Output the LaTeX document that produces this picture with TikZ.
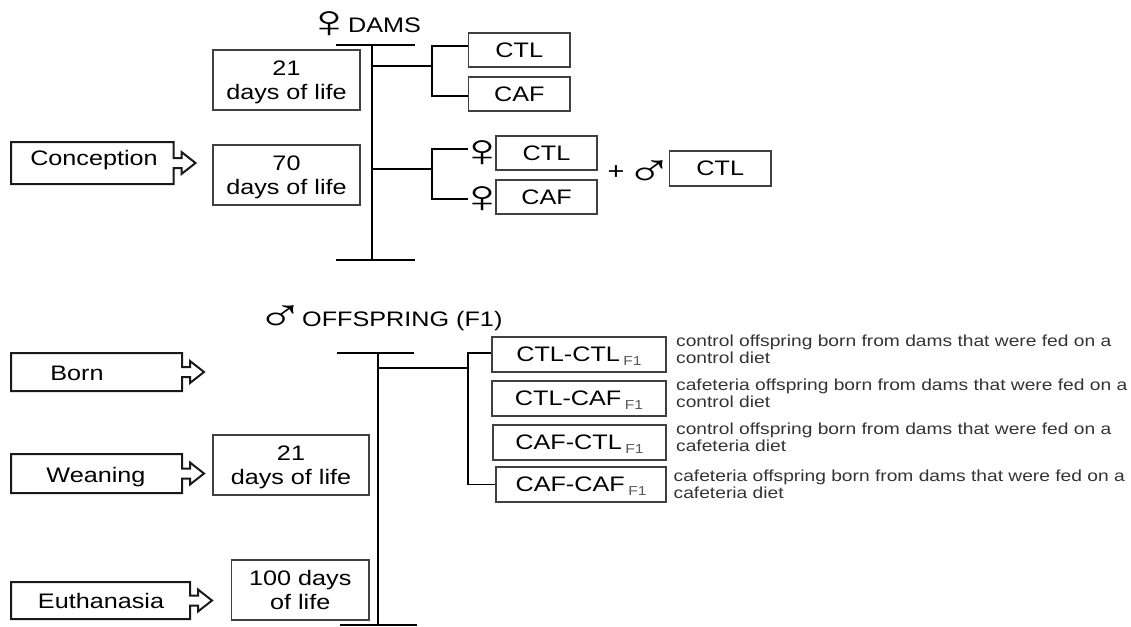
\documentclass[tikz,border=0pt]{standalone}
\usepackage{fontspec}
\setmainfont[FakeStretch=1.2]{Liberation Sans}
\newfontfamily\symfont{Liberation Sans}
\usetikzlibrary{calc}

\tikzset{
    box/.style={draw=black!75, line width=1.1pt, fill=white, align=center, inner sep=0pt, text depth=0pt, font=\fontsize{21}{24}\selectfont},
    note/.style={anchor=north west, align=left, inner sep=0pt, text=black!80, font=\fontsize{16}{17}\selectfont},
    label/.style={inner sep=0pt, text depth=0pt, font=\fontsize{21}{24}\selectfont},
    sym/.style={inner sep=0pt, font=\symfont\fontsize{46}{46}\selectfont},
    trunk/.style={line width=2pt},
    branch/.style={line width=1.6pt},
    stage/.style={line width=2pt, black!90},
}

% box given by its corners: name, left, top, right, bottom, text
\newcommand{\labbox}[6]{\node[box, minimum width=#4-#2, minimum height=#5-#3] (#1) at ({(#2+#4)/2},{(#3+#5)/2}) {#6};}
% stage arrow: name, right side, top, bottom, text position, text
\newcommand{\stagearrow}[6]{
    \draw[stage] (11,#3) -- (#2,#3) -- (#2,{(#3+#4)/2-5}) -- ++(8,0) -- ++(0,-6) -- ++(14,11) -- ++(-14,11) -- ++(0,-6) -- ++(-8,0) -- (#2,#4) -- (11,#4) -- cycle;
    \node[label] (#1) at (#5) {#6};
}
\newcommand{\fone}{\,\raisebox{-4pt}{\textcolor{black!65}{\fontsize{13}{13}\selectfont F1}}}
\newcommand{\femsym}{\scalebox{1.45}[1]{♀}}
\newcommand{\malesym}{\scalebox{1.4}[1]{♂}}

\begin{document}
\begin{tikzpicture}[x=1pt, y=-1pt]
    \useasboundingbox (0,0) rectangle (1131,626);

    % Dams
    \node[sym] (femDams) at (330,25) {\femsym};
    \node[label, anchor=west] (dams) at (348,25) {DAMS};
    \coordinate (damsTop) at (372,45);
    \coordinate (damsEnd) at (372,260);
    \coordinate (damsWean) at (372,66);
    \coordinate (damsMate) at (372,169);
    \coordinate (forkWean) at (432,66);
    \coordinate (forkMate) at (432,169);
    \draw[trunk] (336,45) -- (415,45);
    \draw[trunk] (336,260) -- (415,260);
    \draw[trunk] (damsTop) -- (damsEnd);

    \labbox{dayA}{213}{50}{360}{110}{21\\days of life}
    \labbox{dayB}{213}{145}{360}{205}{70\\days of life}
    \stagearrow{conception}{173.5}{142}{184}{94,158}{Conception}

    \labbox{ctlA}{468.5}{33}{570}{67}{CTL}
    \labbox{cafA}{468.5}{77}{570}{111}{CAF}
    \labbox{ctlB}{496}{136}{597}{170}{CTL}
    \labbox{cafB}{496}{180}{597}{214}{CAF}
    \labbox{ctlM}{669.5}{151}{771}{186}{CTL}
    \node[sym] (femB) at (483,154) {\femsym};
    \node[sym] (femC) at (483,200) {\femsym};
    \node[label, font=\fontsize{24}{24}\selectfont] (plus) at (616,173) {+};
    \node[sym] (maleM) at (650,174) {\malesym};

    \draw[branch] (damsWean) -- (forkWean);
    \draw[branch] ([yshift=4pt]ctlA.west) -| (forkWean) |- ([yshift=-2pt]cafA.west);
    \draw[branch] (damsMate) -- (forkMate);
    \draw[branch] (468,149) -| (forkMate) |- (468,199);

    % Offspring
    \node[sym] (maleF) at (281,319) {\malesym};
    \node[label, anchor=west] (offspring) at (302,319) {OFFSPRING (F1)};
    \coordinate (offTop) at (378,353);
    \coordinate (offEnd) at (378,625);
    \coordinate (offLine) at (378,368);
    \coordinate (forkF) at (468,368);
    \draw[trunk] (337,353) -- (414,353);
    \draw[trunk] (340,625) -- (417,625);
    \draw[trunk] (offTop) -- (offEnd);

    \stagearrow{born}{182}{353}{391}{77,373}{Born}
    \stagearrow{weaning}{182}{454}{493}{96,475}{Weaning}
    \stagearrow{euthanasia}{190}{582}{619}{101,601}{Euthanasia}
    \labbox{dayC}{213}{435}{369}{495}{21\\days of life}
    \labbox{dayD}{231.5}{560}{369}{620}{100 days\\of life}

    \labbox{grpA}{492}{337}{666}{372}{CTL-CTL\fone}
    \labbox{grpB}{492}{381}{666}{416}{CTL-CAF\fone}
    \labbox{grpC}{493}{425}{666}{460}{CAF-CTL\fone}
    \labbox{grpD}{496}{467}{666}{502}{CAF-CAF\fone}

    \draw[branch] (offLine) -- (forkF);
    \draw[branch] ([yshift=1.5pt]grpA.west) -| (forkF) |- (grpD.west);

    \node[note] (noteA) at (676,335) {control offspring born from dams that were fed on a\\control diet};
    \node[note] (noteB) at (676,379) {cafeteria offspring born from dams that were fed on a\\control diet};
    \node[note] (noteC) at (676,423) {control offspring born from dams that were fed on a\\cafeteria diet};
    \node[note] (noteD) at (673.5,470) {cafeteria offspring born from dams that were fed on a\\cafeteria diet};
\end{tikzpicture}
\end{document}
